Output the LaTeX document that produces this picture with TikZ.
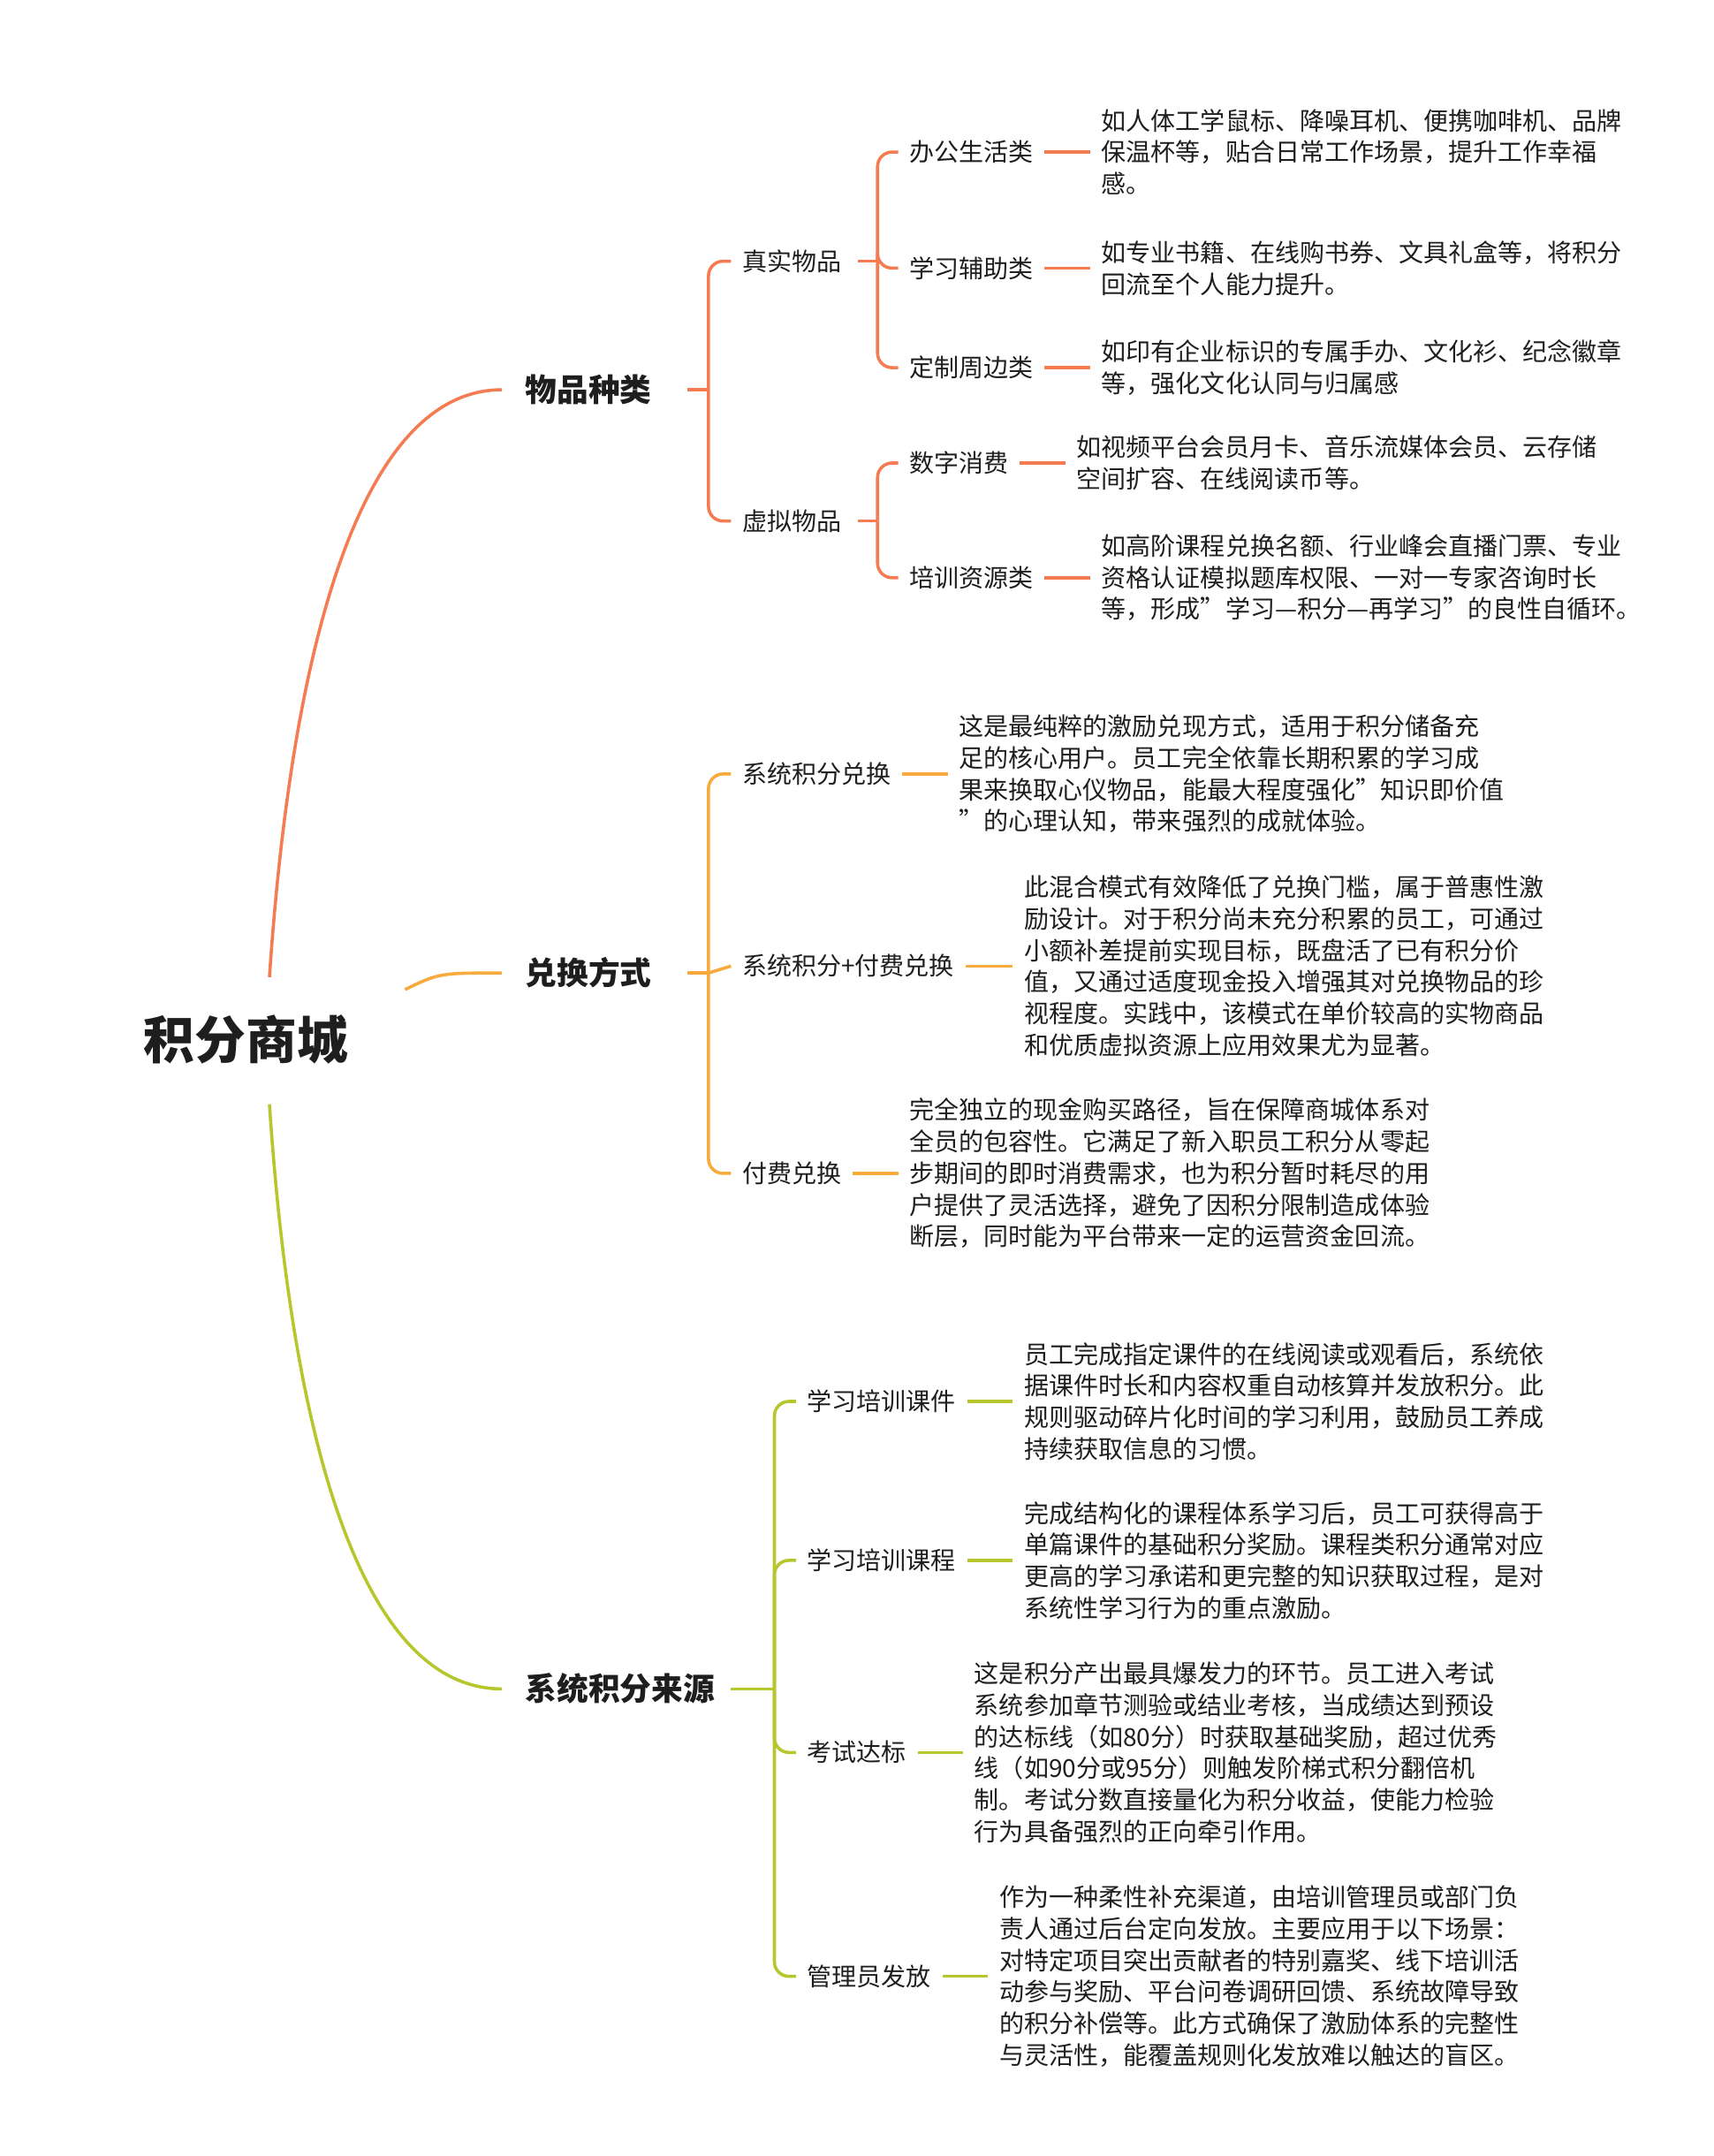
\documentclass[tikz,border=0pt]{standalone}
\usepackage{fontspec}
\setmainfont{Noto Sans CJK SC}
\usetikzlibrary{positioning}
\definecolor{cA}{HTML}{F47B52}
\definecolor{cB}{HTML}{F8AA3C}
\definecolor{cC}{HTML}{B6C62C}
\definecolor{ink}{HTML}{1E1E1E}
\newcommand{\qt}{\symbol{34}}

\begin{document}
\begin{tikzpicture}[x=0.02cm,y=-0.02cm,line width=1.3pt,
  every node/.style={inner sep=4pt,anchor=west,align=left,text=ink},
  root/.style={font=\fontsize{21}{24}\selectfont\bfseries},
  topic/.style={font=\fontsize{13}{16}\selectfont\bfseries},
  sub/.style={font=\fontsize{10.2}{13}\selectfont},
  desc/.style={font=\fontsize{10.2}{13}\selectfont},
  br/.style={rounded corners=6pt}]
  \useasboundingbox (0,-4) rectangle (1240,1556);

  \node[root,anchor=center] (mall) at (178,748) {积分商城};
  \node[topic] (goods) at (372,278) {物品种类};
  \node[topic] (swap) at (372,700) {兑换方式};
  \node[topic] (source) at (372,1218) {系统积分来源};

  \draw[cA,shorten >=5pt] (195,703) .. controls (212,450) and (265,278) .. (goods.west);
  \draw[cB,shorten >=5pt] (293,712) .. controls (318,700) .. (swap.west);
  \draw[cC,shorten >=5pt] (195,795) .. controls (212,1050) and (265,1218) .. (source.west);

  % 物品种类
  \begin{scope}[cA]
  \node[sub] (real) at (529,185) {真实物品};
  \node[sub] (virt) at (529,373) {虚拟物品};
  \node[sub] (office) at (650,106) {办公生活类};
  \node[sub] (study) at (650,190) {学习辅助类};
  \node[sub] (custom) at (650,262) {定制周边类};
  \node[sub] (digit) at (650,331) {数字消费};
  \node[sub] (train) at (650,414) {培训资源类};
  \node[desc] (d-office) at (789,106) {如人体工学鼠标、降噪耳机、便携咖啡机、品牌\\保温杯等，贴合日常工作场景，提升工作幸福\\感。};
  \node[desc] (d-study) at (789,190) {如专业书籍、在线购书券、文具礼盒等，将积分\\回流至个人能力提升。};
  \node[desc] (d-custom) at (789,262) {如印有企业标识的专属手办、文化衫、纪念徽章\\等，强化文化认同与归属感};
  \node[desc] (d-digit) at (771,331) {如视频平台会员月卡、音乐流媒体会员、云存储\\空间扩容、在线阅读币等。};
  \node[desc] (d-train) at (789,414) {如高阶课程兑换名额、行业峰会直播门票、专业\\资格认证模拟题库权限、一对一专家咨询时长\\等，形成\qt 学习—积分—再学习\qt 的良性自循环。};
  \draw[shorten <=10pt] (goods.east) -- ++(33,0) coordinate (goods-b);
  \draw[br] (goods-b) |- (real.west);
  \draw[br] (goods-b) |- (virt.west);
  \draw[shorten <=2pt] (real.east) -- ++(18,0) coordinate (real-b);
  \draw[br] (real-b) |- (office.west);
  \draw[br] (real-b) |- (study.west);
  \draw[br] (real-b) |- (custom.west);
  \draw[shorten <=2pt] (virt.east) -- ++(18,0) coordinate (virt-b);
  \draw[br] (virt-b) |- (digit.west);
  \draw[br] (virt-b) |- (train.west);
  \foreach \n in {office,study,custom,digit,train}
    \draw (\n.east) -- (d-\n.west);
  \end{scope}

  % 兑换方式
  \begin{scope}[cB]
  \node[sub] (sys) at (529,556) {系统积分兑换};
  \node[sub] (mix) at (529,695) {系统积分+付费兑换};
  \node[sub] (pay) at (529,845) {付费兑换};
  \node[desc] (d-sys) at (686,556) {这是最纯粹的激励兑现方式，适用于积分储备充\\足的核心用户。员工完全依靠长期积累的学习成\\果来换取心仪物品，能最大程度强化\qt 知识即价值\\\qt 的心理认知，带来强烈的成就体验。};
  \node[desc] (d-mix) at (733,695) {此混合模式有效降低了兑换门槛，属于普惠性激\\励设计。对于积分尚未充分积累的员工，可通过\\小额补差提前实现目标，既盘活了已有积分价\\值，又通过适度现金投入增强其对兑换物品的珍\\视程度。实践中，该模式在单价较高的实物商品\\和优质虚拟资源上应用效果尤为显著。};
  \node[desc] (d-pay) at (650,845) {完全独立的现金购买路径，旨在保障商城体系对\\全员的包容性。它满足了新入职员工积分从零起\\步期间的即时消费需求，也为积分暂时耗尽的用\\户提供了灵活选择，避免了因积分限制造成体验\\断层，同时能为平台带来一定的运营资金回流。};
  \draw[shorten <=10pt] (swap.east) -- ++(33,0) coordinate (swap-b);
  \draw[br] (swap-b) |- (sys.west);
  \draw (swap-b) -- (mix.west);
  \draw[br] (swap-b) |- (pay.west);
  \foreach \n in {sys,mix,pay}
    \draw (\n.east) -- (d-\n.west);
  \end{scope}

  % 系统积分来源
  \begin{scope}[cC]
  \node[sub] (ware) at (576,1010) {学习培训课件};
  \node[sub] (course) at (576,1125) {学习培训课程};
  \node[sub] (exam) at (576,1264) {考试达标};
  \node[sub] (admin) at (576,1426) {管理员发放};
  \node[desc] (d-ware) at (733,1010) {员工完成指定课件的在线阅读或观看后，系统依\\据课件时长和内容权重自动核算并发放积分。此\\规则驱动碎片化时间的学习利用，鼓励员工养成\\持续获取信息的习惯。};
  \node[desc] (d-course) at (733,1125) {完成结构化的课程体系学习后，员工可获得高于\\单篇课件的基础积分奖励。课程类积分通常对应\\更高的学习承诺和更完整的知识获取过程，是对\\系统性学习行为的重点激励。};
  \node[desc] (d-exam) at (697,1264) {这是积分产出最具爆发力的环节。员工进入考试\\系统参加章节测验或结业考核，当成绩达到预设\\的达标线（如80分）时获取基础奖励，超过优秀\\线（如90分或95分）则触发阶梯式积分翻倍机\\制。考试分数直接量化为积分收益，使能力检验\\行为具备强烈的正向牵引作用。};
  \node[desc] (d-admin) at (715,1426) {作为一种柔性补充渠道，由培训管理员或部门负\\责人通过后台定向发放。主要应用于以下场景：\\对特定项目突出贡献者的特别嘉奖、线下培训活\\动参与奖励、平台问卷调研回馈、系统故障导致\\的积分补偿等。此方式确保了激励体系的完整性\\与灵活性，能覆盖规则化发放难以触达的盲区。};
  \draw[shorten <=2pt] (source.east) -- ++(35,0) coordinate (source-b);
  \draw[br] (source-b) |- (ware.west);
  \draw[br] (source-b) |- (course.west);
  \draw[br] (source-b) |- (exam.west);
  \draw[br] (source-b) |- (admin.west);
  \foreach \n in {ware,course,exam,admin}
    \draw (\n.east) -- (d-\n.west);
  \end{scope}
\end{tikzpicture}
\end{document}
